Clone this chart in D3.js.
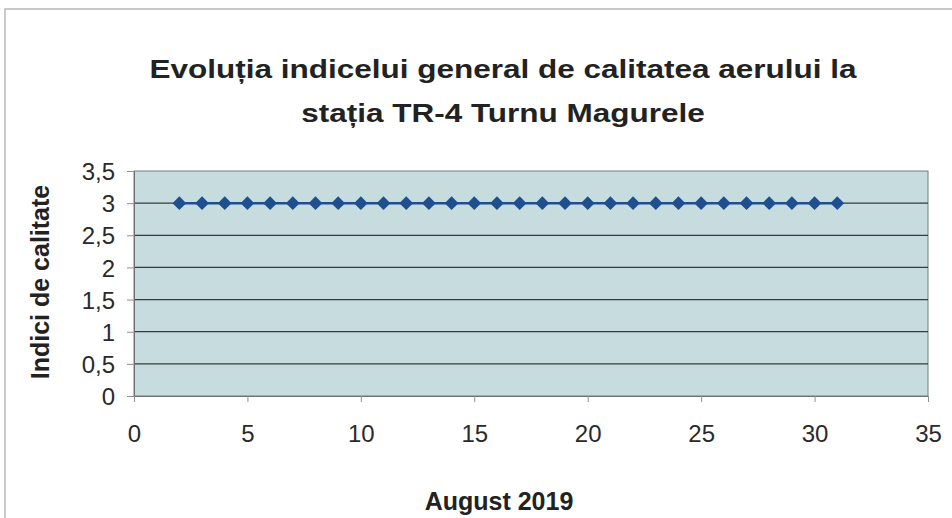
<!DOCTYPE html>
<html>
<head>
<meta charset="utf-8">
<script src="https://cdn.jsdelivr.net/npm/d3@7"></script>
<style>
body { margin: 0; background: #fff; }
text { font-family: "Liberation Sans", Arial, sans-serif; }
</style>
</head>
<body>
<svg id="chart" width="952" height="518"></svg>
<script>
var days = [2,3,4,5,6,7,8,9,10,11,12,13,14,15,16,17,18,19,20,21,22,23,24,25,26,27,28,29,30,31];
var indici = [3,3,3,3,3,3,3,3,3,3,3,3,3,3,3,3,3,3,3,3,3,3,3,3,3,3,3,3,3,3];
var xTicks = [0,5,10,15,20,25,30,35];
var yTicks = [0,0.5,1,1.5,2,2.5,3,3.5];
var titleLines = ["Evoluția indicelui general de calitatea aerului la", "stația TR-4 Turnu Magurele"];

var svg = d3.select('#chart');
var plot = {left: 134, top: 171, right: 928, bottom: 396};

// chart frame
svg.append('rect')
	.attr('x', 5).attr('y', 9)
	.attr('width', 960).attr('height', 520)
	.style('fill', '#fff')
	.style('stroke', '#b8b8b8')
	.style('stroke-width', 1.5);

var x = d3.scaleLinear().domain([0, 35]).range([plot.left, plot.right]);
var y = d3.scaleLinear().domain([0, 3.5]).range([plot.bottom, plot.top]);

svg.append('rect')
	.attr('x', plot.left).attr('y', plot.top)
	.attr('width', plot.right - plot.left).attr('height', plot.bottom - plot.top)
	.style('fill', '#c6dcdf')
	.style('stroke', '#6f7f80')
	.style('stroke-width', 1);

// gridlines
svg.append('g').selectAll('line')
	.data(yTicks.filter(function(d) { return d > 0 && d < 3.5; }))
	.enter().append('line')
	.attr('x1', plot.left).attr('x2', plot.right)
	.attr('y1', function(d) { return y(d); })
	.attr('y2', function(d) { return y(d); })
	.style('stroke', '#3a3a3a')
	.style('stroke-width', 1.2);

var yAxis = svg.append('g')
	.attr('transform', 'translate(' + plot.left + ',0)')
	.call(d3.axisLeft(y).tickValues(yTicks).tickSize(7).tickPadding(12)
		.tickFormat(function(d) { return String(d).replace('.', ','); }));
var xAxis = svg.append('g')
	.attr('transform', 'translate(0,' + plot.bottom + ')')
	.call(d3.axisBottom(x).tickValues(xTicks).tickSize(6).tickPadding(0));
[xAxis, yAxis].forEach(function(a) {
	a.select('.domain').style('stroke', '#707070');
	a.selectAll('.tick line').style('stroke', '#909090');
	a.selectAll('.tick text')
		.style('font-size', '24px')
		.style('fill', '#2a2a2a');
});
yAxis.selectAll('.tick text').attr('dy', '0.36em');
xAxis.selectAll('.tick text').attr('dy', null).attr('y', 46);

// series
var pts = days.map(function(d, i) { return [d, indici[i]]; });
svg.append('path')
	.datum(pts)
	.attr('d', d3.line().x(function(d) { return x(d[0]); }).y(function(d) { return y(d[1]); }))
	.style('fill', 'none')
	.style('stroke', '#1f4f8f')
	.style('stroke-width', 2.5);
svg.append('g').selectAll('path')
	.data(pts)
	.enter().append('path')
	.attr('d', d3.symbol().type(d3.symbolDiamond2).size(120))
	.attr('transform', function(d) { return 'translate(' + x(d[0]) + ',' + y(d[1]) + ')'; })
	.style('fill', '#1f4f8f');

// titles (scan is stretched sideways, so widen the glyphs)
svg.append('g').selectAll('text')
	.data(titleLines)
	.enter().append('text')
	.attr('transform', function(d, i) { return 'translate(503,' + (78 + i * 44) + ') scale(1.26,1)'; })
	.attr('text-anchor', 'middle')
	.style('font-size', '25px')
	.style('font-weight', 'bold')
	.style('fill', '#222')
	.text(function(d) { return d; });

svg.append('text')
	.attr('transform', 'translate(49,282) rotate(-90)')
	.attr('text-anchor', 'middle')
	.style('font-size', '25px')
	.style('font-weight', 'bold')
	.style('fill', '#222')
	.text('Indici de calitate');

svg.append('text')
	.attr('x', 499).attr('y', 510)
	.attr('text-anchor', 'middle')
	.style('font-size', '25px')
	.style('font-weight', 'bold')
	.style('fill', '#222')
	.text('August 2019');
</script>
</body>
</html>
